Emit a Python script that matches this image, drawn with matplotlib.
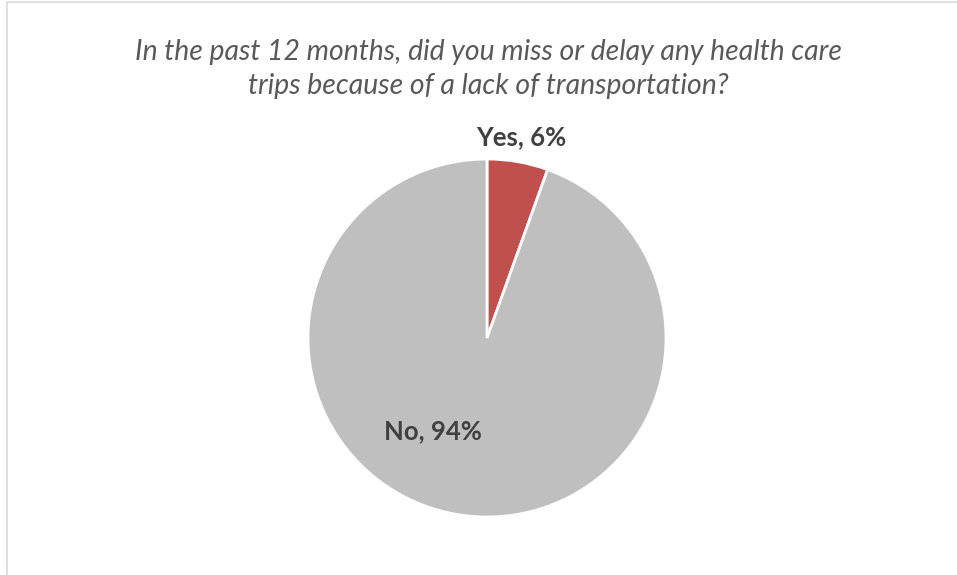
import matplotlib
matplotlib.use("Agg")
import matplotlib.pyplot as plt
from matplotlib.patches import Rectangle

categories = ["Yes", "No"]
values = [5.5, 94.5]
labels = ["Yes, 6%", "No, 94%"]
colors = ["#C0504D", "#BFBFBF"]

W, H = 957, 575
fig = plt.figure(figsize=(W / 100, H / 100), dpi=100)
fig.patch.set_facecolor("white")

# border
fig.patches.append(Rectangle((7 / W, -0.01), 1.0, 1 - 2 / H + 0.01, transform=fig.transFigure,
                             fill=False, edgecolor="#D9D9D9", linewidth=1.2))

cx, cy, r = 487, 338, 179
ax = fig.add_axes([(cx - r) / W, (H - cy - r) / H, 2 * r / W, 2 * r / H])
wedges, _ = ax.pie(values, colors=colors, startangle=90, counterclock=False,
                   wedgeprops=dict(edgecolor="white", linewidth=2), radius=1.0)
ax.set_xlim(-1, 1)
ax.set_ylim(-1, 1)
ax.set_aspect("equal")
ax.axis("off")

tfont = "Lato"
fig.text(488 / W, 1 - 52 / H, "In the past 12 months, did you miss or delay any health care",
         ha="center", va="center", fontsize=20.4, style="italic", color="#595959",
         family=tfont)
fig.text(488 / W, 1 - 86 / H, "trips because of a lack of transportation?",
         ha="center", va="center", fontsize=20.4, style="italic", color="#595959",
         family=tfont)

fig.text(521 / W, 1 - 137 / H, labels[0], ha="center", va="center", fontsize=18.5,
         fontweight="bold", color="#404040", family=tfont)
fig.text(433 / W, 1 - 431 / H, labels[1], ha="center", va="center", fontsize=18.5,
         fontweight="bold", color="#404040", family=tfont)

fig.savefig("out.png", dpi=100, facecolor="white")
